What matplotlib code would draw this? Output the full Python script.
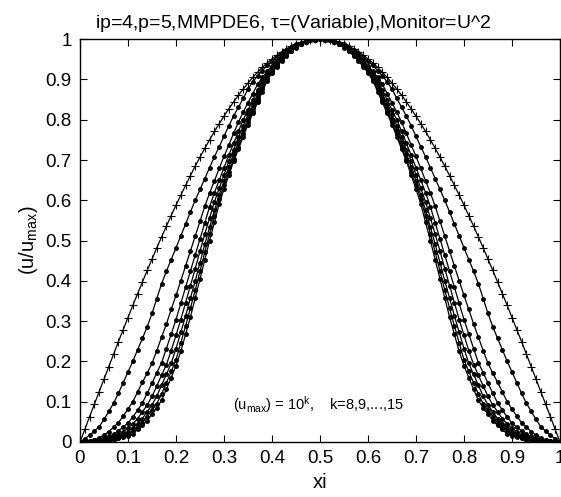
import numpy as np
import matplotlib
matplotlib.use('Agg')
import matplotlib.pyplot as plt

# malha (metade esquerda, o perfil e simetrico em torno de xi=0.5)
xi_meia = [0.00, 0.01, 0.02, 0.03, 0.04, 0.05, 0.06, 0.07, 0.08, 0.09,
           0.10, 0.11, 0.12, 0.13, 0.14, 0.15, 0.16, 0.17, 0.18, 0.19,
           0.20, 0.21, 0.22, 0.23, 0.24, 0.25, 0.26, 0.27, 0.28, 0.29,
           0.30, 0.31, 0.32, 0.33, 0.34, 0.35, 0.36, 0.37, 0.38, 0.39,
           0.40, 0.41, 0.42, 0.43, 0.44, 0.45, 0.46, 0.47, 0.48, 0.49,
           0.50]

# u/umax, k = 8 ... 15
u_k8 = [0.000, 0.031, 0.063, 0.094, 0.125, 0.156, 0.187, 0.218, 0.249, 0.279,
        0.309, 0.339, 0.368, 0.397, 0.426, 0.454, 0.482, 0.509, 0.536, 0.562,
        0.588, 0.613, 0.637, 0.661, 0.685, 0.707, 0.729, 0.750, 0.771, 0.790,
        0.809, 0.827, 0.844, 0.861, 0.876, 0.891, 0.905, 0.918, 0.930, 0.941,
        0.951, 0.960, 0.969, 0.976, 0.982, 0.988, 0.992, 0.996, 0.998, 1.000,
        1.000]
u_k9 = [0.000, 0.008, 0.017, 0.027, 0.038, 0.056, 0.076, 0.096, 0.121, 0.147,
        0.174, 0.200, 0.229, 0.257, 0.286, 0.319, 0.356, 0.393, 0.424, 0.453,
        0.482, 0.512, 0.541, 0.571, 0.600, 0.627, 0.654, 0.681, 0.708, 0.733,
        0.759, 0.785, 0.809, 0.831, 0.853, 0.876, 0.894, 0.909, 0.922, 0.935,
        0.946, 0.956, 0.965, 0.974, 0.981, 0.987, 0.991, 0.995, 0.998, 0.999,
        1.000]
u_k10 = [0.000, 0.002, 0.003, 0.005, 0.011, 0.017, 0.026, 0.037, 0.048, 0.064,
         0.082, 0.100, 0.124, 0.148, 0.171, 0.195, 0.227, 0.260, 0.293, 0.329,
         0.364, 0.400, 0.437, 0.474, 0.511, 0.548, 0.585, 0.618, 0.648, 0.679,
         0.709, 0.737, 0.766, 0.794, 0.819, 0.842, 0.865, 0.888, 0.905, 0.920,
         0.934, 0.947, 0.958, 0.968, 0.976, 0.984, 0.989, 0.994, 0.997, 0.999,
         1.000]
u_k11 = [0.000, 0.001, 0.003, 0.004, 0.005, 0.010, 0.014, 0.019, 0.028, 0.037,
         0.047, 0.062, 0.079, 0.097, 0.121, 0.146, 0.172, 0.197, 0.232, 0.268,
         0.304, 0.344, 0.384, 0.424, 0.464, 0.504, 0.544, 0.584, 0.619, 0.650,
         0.681, 0.712, 0.741, 0.771, 0.800, 0.824, 0.849, 0.873, 0.898, 0.915,
         0.929, 0.943, 0.955, 0.965, 0.975, 0.982, 0.989, 0.994, 0.997, 0.999,
         1.000]
u_k12 = [0.000, 0.001, 0.002, 0.003, 0.004, 0.005, 0.009, 0.014, 0.018, 0.025,
         0.035, 0.045, 0.058, 0.075, 0.092, 0.113, 0.139, 0.166, 0.192, 0.227,
         0.265, 0.304, 0.346, 0.388, 0.430, 0.474, 0.516, 0.556, 0.596, 0.630,
         0.663, 0.697, 0.726, 0.756, 0.785, 0.813, 0.838, 0.864, 0.890, 0.910,
         0.926, 0.940, 0.953, 0.964, 0.973, 0.982, 0.988, 0.993, 0.997, 0.999,
         1.000]
u_k13 = [0.000, 0.001, 0.002, 0.003, 0.003, 0.004, 0.006, 0.010, 0.014, 0.018,
         0.025, 0.035, 0.045, 0.058, 0.075, 0.092, 0.114, 0.141, 0.168, 0.195,
         0.232, 0.272, 0.313, 0.357, 0.400, 0.445, 0.491, 0.533, 0.575, 0.614,
         0.648, 0.683, 0.715, 0.744, 0.774, 0.803, 0.829, 0.855, 0.882, 0.906,
         0.922, 0.937, 0.950, 0.962, 0.972, 0.981, 0.988, 0.993, 0.997, 0.999,
         1.000]
u_k14 = [0.000, 0.001, 0.002, 0.002, 0.003, 0.004, 0.005, 0.007, 0.011, 0.015,
         0.019, 0.027, 0.038, 0.048, 0.063, 0.079, 0.095, 0.119, 0.147, 0.175,
         0.204, 0.246, 0.288, 0.332, 0.377, 0.424, 0.471, 0.517, 0.561, 0.603,
         0.637, 0.670, 0.703, 0.733, 0.764, 0.794, 0.822, 0.849, 0.876, 0.902,
         0.919, 0.934, 0.948, 0.960, 0.971, 0.980, 0.987, 0.993, 0.997, 0.999,
         1.000]
u_k15 = [0.000, 0.001, 0.001, 0.002, 0.003, 0.004, 0.004, 0.005, 0.009, 0.013,
         0.016, 0.020, 0.031, 0.041, 0.053, 0.069, 0.085, 0.103, 0.131, 0.160,
         0.189, 0.225, 0.267, 0.310, 0.357, 0.405, 0.452, 0.500, 0.545, 0.591,
         0.628, 0.662, 0.697, 0.727, 0.758, 0.788, 0.816, 0.843, 0.870, 0.897,
         0.916, 0.932, 0.946, 0.959, 0.970, 0.979, 0.987, 0.992, 0.997, 0.999,
         1.000]

perfis = [u_k8, u_k9, u_k10, u_k11, u_k12, u_k13, u_k14, u_k15]
marcadores = ['+', '.', '.', '.', '.', '.', '.', '.']

xticks = [0, 0.1, 0.2, 0.3, 0.4, 0.5, 0.6, 0.7, 0.8, 0.9, 1]
yticks = [0, 0.1, 0.2, 0.3, 0.4, 0.5, 0.6, 0.7, 0.8, 0.9, 1]

plt.rcParams['font.family'] = ['Liberation Sans', 'DejaVu Sans']
plt.rcParams['mathtext.default'] = 'regular'


def espelha(meia):
    # monta a curva inteira a partir da metade esquerda
    return list(meia) + list(meia[-2::-1])


xi = espelha(xi_meia)
xi = [v if i <= 50 else round(1 - v, 2) for i, v in enumerate(xi)]

fig = plt.figure(figsize=(5.61, 4.97), dpi=100)
ax = fig.add_axes([0.1426, 0.1107, 0.8556, 0.8105])

for perfil, m in zip(perfis, marcadores):
    if m == '+':
        ax.plot(xi, espelha(perfil), color='black', lw=0.9, marker='+',
                markersize=5.5, markeredgewidth=0.8)
    else:
        ax.plot(xi, espelha(perfil), color='black', lw=0.9, marker='.',
                markersize=5)

ax.set_xlim(0, 1)
ax.set_ylim(0, 1)
ax.set_xticks(xticks)
ax.set_yticks(yticks)
ax.set_xticklabels(['%g' % t for t in xticks])
ax.set_yticklabels(['%g' % t for t in yticks])
ax.tick_params(direction='in', top=True, right=True, length=5, width=0.8,
               labelsize=13.5, pad=6)
for s in ax.spines.values():
    s.set_linewidth(1.0)

ax.set_title(r'ip=4,p=5,MMPDE6, $\tau$=(Variable),Monitor=U^2', fontsize=14,
             pad=8, x=0.444)
ax.set_xlabel('xi', fontsize=14.5, labelpad=4)
ax.set_ylabel(r'(u/u$_{max}$)', fontsize=14.5, labelpad=4)

ax.text(0.318, 0.092, r'(u$_{max}$) = 10$^{k}$,    k=8,9,...,15', fontsize=10.5,
        va='center', ha='left')

fig.savefig('out.png', dpi=100)
